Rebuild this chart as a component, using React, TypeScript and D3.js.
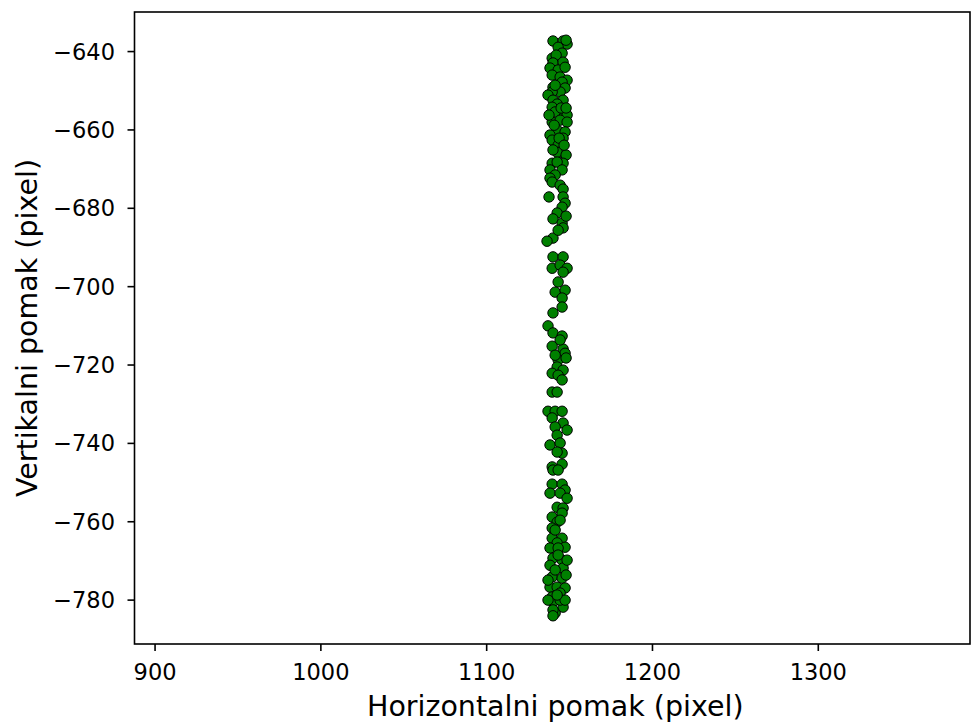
import React from "react";
import * as d3 from "d3";

const xValues: number[] = [
  1140.0, 1146.1, 1148.5, 1147.9, 1143.1, 1145.5, 1139.5, 1141.9, 1140.0, 1146.1,
  1138.2, 1143.1, 1147.3, 1139.5, 1144.3, 1148.5, 1145.5, 1140.0, 1147.3, 1144.3,
  1139.5, 1137.0, 1146.1, 1140.0, 1142.5, 1139.5, 1146.1, 1141.3, 1148.5, 1139.5,
  1144.3, 1148.5, 1142.5, 1147.3, 1138.2, 1139.5, 1146.1, 1143.1, 1144.3, 1142.5,
  1147.9, 1146.1, 1139.5, 1142.5, 1138.2, 1145.5, 1141.3, 1138.2,
  1141.3, 1144.9, 1140.7, 1143.7, 1146.7, 1140.0, 1147.9, 1137.6,
  1139.5, 1144.3, 1146.1, 1137.6, 1146.1, 1147.3, 1145.5, 1142.5, 1140.0, 1145.5,
  1146.1, 1140.0, 1136.4, 1140.0, 1146.1, 1139.5, 1144.3, 1148.5, 1146.1, 1143.1,
  1141.3, 1147.3, 1145.5, 1140.0, 1145.5, 1143.1, 1147.9,
  1137.0, 1140.0, 1145.5, 1139.5, 1146.1, 1147.3, 1143.1, 1142.5, 1146.1, 1139.5,
  1143.1, 1145.5, 1139.5, 1142.5, 1137.0, 1141.3, 1145.5, 1139.5, 1146.1, 1141.3,
  1148.5, 1142.5, 1138.2, 1144.3, 1145.5, 1142.5, 1139.5, 1145.5, 1144.3, 1147.9,
  1141.3,
  1140.0, 1143.1, 1139.5, 1145.5, 1147.3, 1138.2, 1144.3, 1148.5, 1142.5, 1146.1,
  1139.5, 1145.5, 1142.5, 1139.5, 1139.5, 1145.5, 1142.5, 1147.3, 1138.2, 1143.1,
  1140.0, 1145.5, 1138.2, 1146.1, 1139.5, 1145.5, 1138.2, 1142.5, 1147.3, 1139.5,
  1144.3, 1140.0, 1146.1, 1141.3, 1140.0, 1143.1, 1147.9, 1141.3, 1144.3, 1137.0,
  1148.5, 1141.3, 1144.3, 1147.3, 1137.0, 1142.5, 1140.0,
];

const yValues: number[] = [
  -637.3, -637.3, -638.1, -637.1, -638.9, -640.4, -641.7, -640.9, -642.9, -642.7,
  -644.2, -644.7, -644.0, -646.0, -646.5, -647.3, -647.8, -649.1, -649.3, -650.3,
  -650.3, -651.1, -652.4, -652.4, -653.4, -654.2, -655.4, -655.4, -656.2, -658.0,
  -657.5, -658.0, -660.0, -660.5, -661.3, -662.6, -662.1, -663.9, -665.7, -665.7,
  -666.4, -668.5, -668.5, -668.2, -670.2, -670.2, -671.5, -672.3,
  -648.6, -654.4, -658.8, -662.1, -663.9, -665.1, -654.4, -656.2,
  -673.3, -674.1, -675.1, -677.1, -677.1, -678.7, -679.7, -681.2, -682.7, -683.8,
  -685.0, -687.6, -688.4, -692.4, -692.4, -695.3, -694.5, -695.3, -696.3, -698.8,
  -701.4, -700.9, -702.9, -706.7, -705.2, -685.6, -682.0,
  -710.0, -711.8, -712.6, -715.2, -715.9, -717.0, -718.7, -720.5, -721.3, -722.1,
  -722.6, -723.8, -726.9, -726.9, -731.8, -731.8, -731.8, -733.5, -734.8, -735.8,
  -736.6, -737.9, -740.4, -739.9, -742.5, -742.2, -746.0, -745.3, -713.6, -718.2,
  -717.5,
  -746.8, -746.8, -750.4, -750.4, -751.9, -752.7, -752.7, -754.0, -756.3, -756.5,
  -758.8, -757.8, -760.1, -761.6, -764.2, -764.2, -765.4, -766.5, -766.7, -766.7,
  -769.3, -769.8, -771.1, -771.8, -774.1, -774.4, -776.7, -776.7, -776.9, -779.2,
  -778.2, -780.5, -781.8, -783.3, -782.5, -768.5, -773.6, -772.3, -780.0, -774.9,
  -769.8, -762.1, -759.6, -780.0, -780.0, -778.7, -784.0,
];

const xTicks: number[] = [900, 1000, 1100, 1200, 1300];
const yTicks: number[] = [-640, -660, -680, -700, -720, -740, -760, -780];

const xLabel = "Horizontalni pomak (pixel)";
const yLabel = "Vertikalni pomak (pixel)";

export default function App() {
  const W = 971;
  const H = 724;
  const left = 134.5;
  const right = 970;
  const top = 12;
  const bottom = 644;

  const x = d3.scaleLinear().domain([887.6, 1391.5]).range([left, right]);
  const y = d3.scaleLinear().domain([-791.2, -629.9]).range([bottom, top]);

  const points = xValues.map((v, i) => ({ x: v, y: yValues[i] }));
  const font = "DejaVu Sans, sans-serif";
  const tickLen = 7;
  const fmt = (v: number) => (v < 0 ? "\u2212" + Math.abs(v) : String(v));

  return (
    <svg
      width={W}
      height={H}
      style={{ position: "absolute", left: 0, top: 0, background: "#fff" }}
      fontFamily={font}
    >
      <rect x={0} y={0} width={W} height={H} fill="#fff" />
      <g>
        {points.map((p, i) => (
          <circle
            key={i}
            cx={x(p.x)}
            cy={y(p.y)}
            r={5.2}
            fill="#008000"
            stroke="#000"
            strokeWidth={1}
          />
        ))}
      </g>
      <rect
        x={left}
        y={top}
        width={right - left}
        height={bottom - top}
        fill="none"
        stroke="#000"
        strokeWidth={1.6}
      />
      {xTicks.map((t) => (
        <g key={"x" + t}>
          <line x1={x(t)} x2={x(t)} y1={bottom} y2={bottom + tickLen} stroke="#000" strokeWidth={1.6} />
          <text x={x(t)} y={680} textAnchor="middle" fontSize={22.5} fill="#000">
            {fmt(t)}
          </text>
        </g>
      ))}
      {yTicks.map((t) => (
        <g key={"y" + t}>
          <line x1={left - tickLen} x2={left} y1={y(t)} y2={y(t)} stroke="#000" strokeWidth={1.6} />
          <text x={115} y={y(t) + 8} textAnchor="end" fontSize={22.5} fill="#000">
            {fmt(t)}
          </text>
        </g>
      ))}
      <text x={(left + right) / 2 + 3} y={716} textAnchor="middle" fontSize={28.5} fill="#000">
        {xLabel}
      </text>
      <text
        transform={`translate(37, ${(top + bottom) / 2}) rotate(-90)`}
        textAnchor="middle"
        fontSize={28.5}
        fill="#000"
      >
        {yLabel}
      </text>
    </svg>
  );
}
